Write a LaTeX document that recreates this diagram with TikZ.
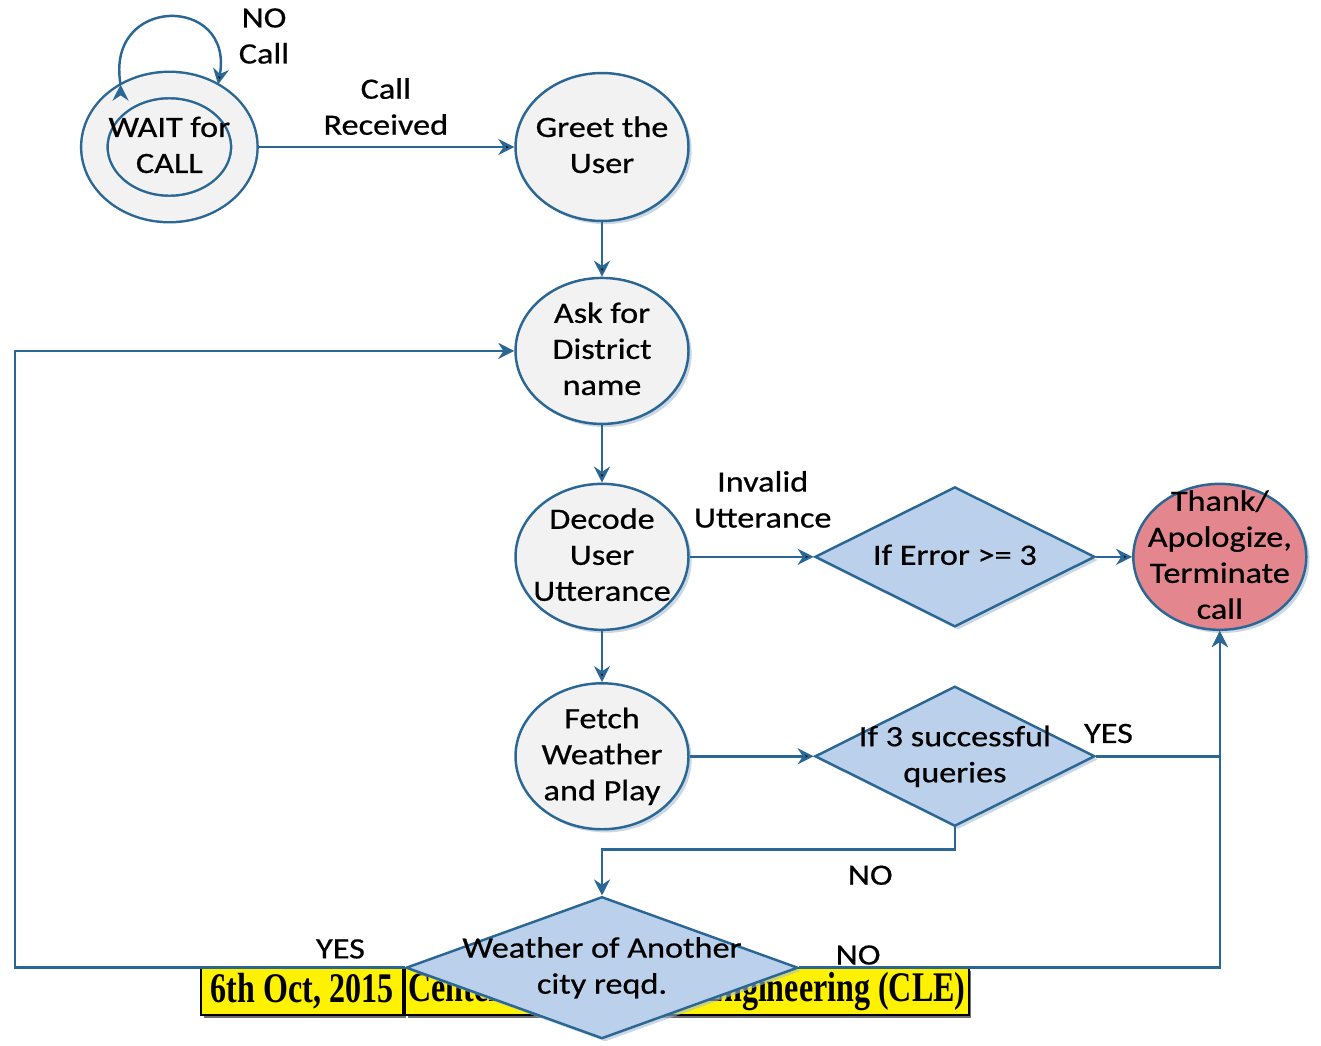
\documentclass[tikz,border=0pt]{standalone}
\usepackage{fontspec}
\setmainfont{Carlito}[FakeStretch=1.16,FakeBold=0.6]
\newfontfamily\bannerfont{Liberation Serif}[FakeStretch=0.76]
\usepackage{tikz}
\usetikzlibrary{positioning,arrows.meta,shapes.geometric,shadows}
\definecolor{linecol}{HTML}{2A6795}
\definecolor{statefill}{HTML}{F2F2F2}
\definecolor{diafill}{HTML}{BBD0EA}
\definecolor{thankcol}{HTML}{E4868D}
\definecolor{shadecol}{HTML}{A9BDD0}
\newcommand\nodefont{\fontsize{16.8}{20.5}\selectfont}
% text that does not widen its shape
\newcommand\ztext[1]{\makebox[0pt]{\raisebox{\dimexpr-.5\totalheight+.34em\relax}[0pt][0pt]{\begin{tabular}[b]{@{}c@{}}#1\end{tabular}}}}
\tikzset{
	flow/.style={x=0.02cm,y=-0.02cm,>={Stealth[length=3.2mm,width=3.2mm]},
		font=\nodefont},
	soft/.style={drop shadow={shadow xshift=1.8pt,shadow yshift=-1.8pt,fill=shadecol,opacity=.6}},
	state/.style={ellipse,draw=linecol,line width=1.4pt,fill=statefill,
		minimum width=3.46cm,minimum height=2.92cm,inner sep=0pt,soft},
	start/.style={minimum width=3.0cm,minimum height=2.48cm,double=statefill,
		double distance=0.48cm,outer sep=0.26cm},
	final/.style={fill=thankcol},
	test/.style={diamond,draw=linecol,line width=1.4pt,fill=diafill,
		minimum width=5.6cm,minimum height=2.8cm,inner sep=0pt,soft},
	cell/.style={rectangle,draw=black,line width=1.1pt,fill=yellow,minimum height=0.94cm,
		inner sep=1pt,font=\bannerfont\bfseries\fontsize{24}{28}\selectfont,
		drop shadow={shadow xshift=1.5pt,shadow yshift=-1.5pt,fill=black!70,opacity=.8}},
	lbl/.style={align=center,font=\nodefont},
	conn/.style={->,draw=linecol,line width=1.4pt},
	reflexive above/.style={->,looseness=2.4,out=100,in=80}
}

\begin{document}
\begin{tikzpicture}[flow]
	\useasboundingbox (0,0) rectangle (1321,1045);
	
	\node[cell,minimum width=4.04cm] (date) at (302,991.5) {6th Oct, 2015};
	\node[cell,minimum width=11.28cm] (centre) [right=0pt of date] {Center for Language Engineering (CLE)};
	
	\node[state,minimum height=2.96cm] (greet) at (602,147) {\ztext{Greet the\\User}};
	\node[state,start] (wait) [left=5.14cm of greet] {\ztext{WAIT for\\CALL}};
	\node[state] (ask) [below=1.09cm of greet] {\ztext{Ask for\\District\\name}};
	\node[state] (decode) [below=1.15cm of ask] {\ztext{Decode\\User\\Utterance}};
	\node[state] (fetch) [below=1.02cm of decode] {\ztext{Fetch\\Weather\\and Play}};
	\node[test] (err) [right=2.48cm of decode] {\ztext{If Error >= 3}};
	\node[state,final] (thank) [right=0.72cm of err] {\ztext{Thank/\\Apologize,\\Terminate\\call}};
	\node[test] (succ) [right=2.48cm of fetch] {\ztext{If 3 successful\\queries}};
	\node[test,minimum width=7.84cm,minimum height=2.84cm] (another) [below=1.3cm of fetch] {\ztext{Weather of Another\\city reqd.}};
	
	\node[lbl] (nocall) at (264,36) {NO\\Call};
	
	\path[conn] (wait.128) edge[reflexive above] (wait.52);
	\path[conn] (wait) edge node[lbl,above=0.1cm] {Call\\Received} (greet);
	\path[conn] (greet) edge (ask);
	\path[conn] (ask) edge (decode);
	\path[conn] (decode) edge (fetch);
	\path[conn] (decode) edge node[lbl,above=0.44cm,xshift=0.22cm] {Invalid\\Utterance} (err);
	\path[conn] (err) edge (thank);
	\path[conn] (fetch) edge (succ);
	\draw[conn] (succ.east) -| node[lbl,above=0.12cm,pos=0.05] {YES} (thank.south);
	\draw[conn] (succ.south) -- ++(0,22) -| node[lbl,below=0.18cm,pos=0.12] {NO} (another.north);
	\draw[conn] (another.west) -- node[lbl,above=0.04cm,pos=0.165] {YES} ++(-390,0) |- (ask.west);
	\draw[conn] (another.east) -| node[lbl,above,inner sep=1pt,pos=0.07] {NO} (thank.south);
	
\end{tikzpicture}
\end{document}
